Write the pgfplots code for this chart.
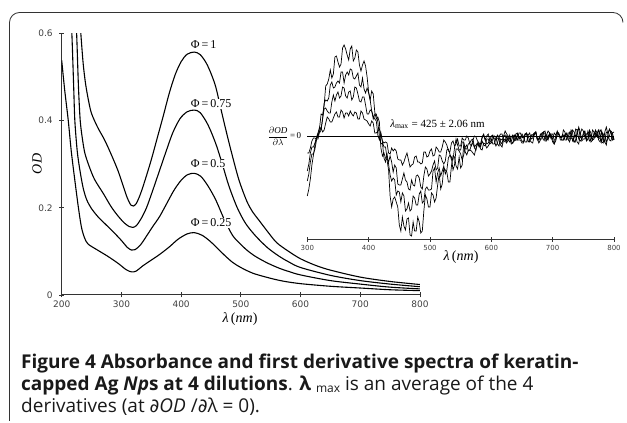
\documentclass[border=0pt]{standalone}
\usepackage{fontspec}
\setmainfont{Liberation Serif}
\newfontfamily\capfont{Open Sans}
\newfontfamily\tickfont{DejaVu Sans}
\usepackage{pgfplots}
\usepackage{pgfplotstable}
\pgfplotsset{compat=1.18}

\pgfplotstableread{
lam c4 c3 c2 c1
300 -60 -45 -35 -17
302.5 -53 -38 -28 -17
305 -43 -26 -17 -12
307.5 -29 -18 -11 -5
310 -19 -18 -11 -2
312.5 -9 -13 -7 -2
315 -2 -4 -1 -3
317.5 -1 3 3 -3
320 8 9 3 5
322.5 22 7 6 8
325 21 17 18 4
327.5 31 33 27 6
330 50 36 28 13
332.5 52 35 25 19
335 57 38 23 17
337.5 66 51 23 14
340 58 54 34 14
342.5 62 48 41 18
345 79 49 35 22
347.5 80 53 41 24
350 74 55 44 19
352.5 69 53 38 19
355 72 64 40 26
357.5 88 64 49 24
360 91 53 48 18
362.5 87 61 40 23
365 81 64 38 23
367.5 76 61 44 20
370 87 67 45 25
372.5 90 66 36 22
375 75 58 39 20
377.5 78 57 49 24
380 86 60 48 23
382.5 84 63 42 17
385 71 51 35 17
387.5 65 49 34 25
390 71 58 39 23
392.5 75 47 39 17
395 70 43 31 16
397.5 59 48 22 15
400 44 43 22 12
402.5 36 36 26 10
405 45 25 25 15
407.5 42 17 20 13
410 24 22 17 3
412.5 17 22 15 3
415 19 14 1 5
417.5 14 0 -4 7
420 -12 -8 3 2
422.5 -20 -7 -6 -5
425 -17 -22 -11 -7
427.5 -22 -26 -11 -6
430 -24 -18 -22 -7
432.5 -34 -28 -26 -17
435 -60 -39 -20 -18
437.5 -71 -45 -26 -12
440 -63 -42 -36 -15
442.5 -61 -44 -29 -13
445 -66 -59 -32 -15
447.5 -71 -55 -48 -23
450 -89 -56 -49 -24
452.5 -95 -66 -49 -24
455 -81 -57 -43 -29
457.5 -90 -60 -37 -26
460 -94 -75 -44 -21
462.5 -83 -73 -46 -17
465 -82 -67 -53 -24
467.5 -99 -75 -54 -31
470 -100 -73 -44 -29
472.5 -86 -60 -49 -28
475 -95 -62 -50 -21
477.5 -95 -69 -40 -20
480 -81 -69 -39 -26
482.5 -86 -58 -42 -26
485 -97 -55 -51 -28
487.5 -95 -67 -53 -27
490 -75 -65 -40 -16
492.5 -59 -53 -31 -16
495 -63 -51 -33 -21
497.5 -71 -54 -40 -20
500 -71 -54 -38 -15
502.5 -57 -53 -35 -13
505 -59 -35 -29 -20
507.5 -66 -32 -25 -19
510 -62 -46 -34 -11
512.5 -49 -37 -32 -13
515 -38 -32 -19 -16
517.5 -53 -40 -20 -16
520 -48 -35 -25 -11
522.5 -32 -30 -28 -4
525 -34 -38 -25 -6
527.5 -36 -34 -14 -9
530 -46 -22 -13 -15
532.5 -46 -19 -18 -16
535 -30 -21 -24 -7
537.5 -20 -34 -24 -5
540 -21 -29 -12 -10
542.5 -30 -13 -3 -8
545 -33 -13 -9 -3
547.5 -21 -15 -14 -10
550 -32 -18 -14 -10
552.5 -29 -24 -6 -2
555 -8 -19 -6 -4
557.5 -16 -11 -13 -4
560 -19 -9 -13 0
562.5 -14 -15 -8 -2
565 -14 -14 -7 -8
567.5 -15 -9 -4 -10
570 -17 -7 -3 -4
572.5 -19 -12 -11 0
575 -12 -14 -9 -1
577.5 -8 -7 -7 -5
580 -9 -8 -11 -7
582.5 -13 -11 -9 -8
585 -14 -5 -2 -1
587.5 -7 -9 1 2
590 -8 -10 -4 -4
592.5 -12 -3 -8 0
595 -10 -3 -7 2
597.5 -7 -8 -4 -4
600 -4 -7 0 -4
602.5 -8 -3 1 0
605 -8 0 -5 -3
607.5 -2 -1 -10 -3
610 -2 -8 -7 1
612.5 -4 -10 -1 -1
615 -9 -3 2 -6
617.5 -11 -4 2 -8
620 -4 -1 -4 0
622.5 -3 1 -6 5
625 -7 -5 0 2
627.5 -4 -2 -4 0
630 1 -2 -6 -3
632.5 -6 -8 -1 -5
635 -7 -7 1 -1
637.5 0 -4 -5 1
640 -1 2 -4 -4
642.5 -4 3 2 -4
645 -4 -3 -1 3
647.5 -4 -2 -2 3
650 -7 -5 2 -2
652.5 -7 -6 -1 -1
655 1 2 -6 2
657.5 3 2 -6 3
660 0 -6 1 -5
662.5 -4 -5 3 -6
665 -6 1 -3 1
667.5 -7 1 -2 1
670 1 2 3 3
672.5 4 4 3 4
675 -3 -3 -4 -3
677.5 -2 -4 -4 -7
680 -3 2 1 -4
682.5 -3 1 3 1
685 3 -4 4 4
687.5 3 -4 -5 5
690 -4 1 -5 -1
692.5 -3 5 1 -4
695 3 3 -1 2
697.5 0 1 2 -3
700 -6 -3 2 -3
702.5 -8 -8 -4 3
705 0 -5 -4 1
707.5 5 3 1 4
710 1 2 2 3
712.5 -1 -1 -1 -4
715 -4 0 -2 -4
717.5 -4 1 6 -4
720 2 -4 4 0
722.5 3 -4 -3 2
725 -3 3 -3 -2
727.5 -3 3 -6 4
730 6 -2 -1 4
732.5 3 -3 6 -5
735 -6 -6 4 -2
737.5 -4 -6 0 7
740 1 6 -6 6
742.5 9 7 -8 -3
745 4 -1 2 -5
747.5 -5 -3 7 -3
750 -3 3 5 1
752.5 -3 5 -1 4
755 2 -5 -3 -4
757.5 3 -3 5 -4
760 -5 4 1 6
762.5 -4 -1 -6 3
765 6 -4 -4 -4
767.5 4 3 2 -3
770 -1 1 6 3
772.5 2 -1 -1 5
775 -4 6 -2 -1
777.5 -6 2 6 -3
780 5 -6 4 -6
782.5 -3 2 1 -7
785 -6 2 -6 4
787.5 4 -6 -9 9
790 3 -3 1 2
792.5 6 0 7 -4
795 4 5 4 -5
797.5 -4 3 -1 3
800 -2 -4 -4 4
}\deriv

\begin{document}
\begin{tikzpicture}
\useasboundingbox (0pt,0pt) rectangle (627pt,423pt);
% frame
\draw[black!80, line width=0.8pt] (9.5pt,2pt) -- (9.5pt,400.5pt)
  arc[start angle=180, end angle=90, radius=10pt] -- (613pt,410.5pt)
  arc[start angle=90, end angle=0, radius=10pt];

% main absorbance axis
\begin{axis}[
  at={(61.7pt,128pt)}, anchor=south west,
  scale only axis, width=358.3pt, height=261.7pt,
  xmin=200, xmax=800, ymin=0, ymax=0.6,
  axis lines=left,
  axis line style={-, black!80, line width=1pt},
  xtick={200,300,...,800}, ytick={0,0.2,0.4,0.6},
  tick align=center, major tick length=5pt,
  tick style={black!80, line width=0.8pt},
  tick label style={font=\tickfont\fontsize{9}{9}\selectfont, text=black!75},
  yticklabel style={xshift=-3pt},
  /pgf/number format/assume math mode=true,
  clip=true,
]
\addplot[black, line width=1.1pt, smooth] coordinates {
(229,0.66) (232,0.60) (236,0.53) (240,0.484) (245,0.445) (250,0.416) (260,0.385) (272,0.355) (283,0.322) (294,0.286) (303,0.25) (310,0.222) (316,0.206) (320,0.204) (325,0.21) (332,0.232) (340,0.265) (350,0.31) (360,0.36) (370,0.41) (380,0.462) (390,0.505) (400,0.535) (410,0.552) (422,0.557) (432,0.551) (442,0.532) (450,0.508) (458,0.477) (466,0.43) (475,0.378) (486,0.318) (497,0.263) (510,0.215) (520,0.19) (530,0.172) (545,0.145) (560,0.12) (580,0.1) (600,0.083) (625,0.068) (650,0.057) (700,0.041) (750,0.031) (800,0.024)};
\addplot[black, line width=1.1pt, smooth] coordinates {
(222,0.68) (225,0.60) (228,0.48) (231,0.40) (235,0.355) (239,0.324) (246,0.295) (255,0.265) (270,0.232) (283,0.202) (295,0.18) (305,0.165) (313,0.157) (319,0.155) (325,0.159) (333,0.175) (342,0.2) (352,0.238) (364,0.286) (375,0.33) (386,0.372) (398,0.404) (410,0.42) (422,0.424) (432,0.418) (445,0.39) (458,0.347) (469,0.3) (480,0.25) (494,0.2) (508,0.164) (525,0.135) (545,0.108) (565,0.088) (580,0.076) (600,0.063) (650,0.045) (700,0.033) (750,0.025) (800,0.019)};
\addplot[black, line width=1.1pt, smooth] coordinates {
(214,0.68) (217,0.60) (220,0.48) (222,0.40) (226,0.33) (230.5,0.286) (236,0.245) (242,0.218) (250,0.198) (261,0.179) (275,0.16) (289,0.141) (300,0.125) (310,0.109) (317,0.103) (323,0.104) (332,0.115) (342,0.135) (352,0.156) (364,0.18) (376,0.21) (388,0.24) (400,0.263) (411,0.276) (422,0.279) (433,0.272) (445,0.25) (458,0.218) (472,0.174) (486,0.137) (497,0.12) (510,0.103) (525,0.088) (545,0.073) (565,0.061) (580,0.054) (600,0.046) (650,0.033) (700,0.025) (750,0.018) (800,0.014)};
\addplot[black, line width=1.1pt, smooth] coordinates {
(200,0.538) (205,0.47) (211,0.40) (216,0.33) (222,0.263) (228,0.2) (233,0.156) (238,0.132) (244,0.117) (260,0.103) (278,0.088) (295,0.072) (308,0.058) (317,0.053) (325,0.055) (335,0.066) (350,0.08) (364,0.093) (380,0.11) (395,0.128) (410,0.14) (422,0.143) (435,0.137) (447,0.125) (458,0.111) (472,0.092) (486,0.075) (500,0.063) (520,0.05) (545,0.04) (570,0.032) (600,0.026) (650,0.02) (700,0.016) (750,0.012) (800,0.01)};
\tikzset{philab/.style={anchor=west, fill=white, inner sep=0.6pt, font=\fontsize{12}{12}\selectfont}}
\node[philab] at (axis cs:415,0.575) {Φ\,=\,1};
\node[philab] at (axis cs:415,0.438) {Φ\,=\,0.75};
\node[philab] at (axis cs:415,0.301) {Φ\,=\,0.5};
\node[philab] at (axis cs:415,0.165) {Φ\,=\,0.25};
\end{axis}

% derivative inset axis
\begin{axis}[
  at={(307.3pt,183.7pt)}, anchor=south west,
  scale only axis, width=306.7pt, height=203.3pt,
  xmin=300, xmax=800, ymin=-103.3, ymax=100,
  axis x line=bottom, axis y line=none,
  axis line style={-, black!80, line width=1pt},
  xtick={300,400,...,800}, ytick=\empty,
  tick align=center, major tick length=5pt,
  tick style={black!80, line width=0.8pt},
  tick label style={font=\tickfont\fontsize{7}{8}\selectfont, text=black!75},
  /pgf/number format/assume math mode=true,
  clip=false,
]
\addplot[black, line width=0.7pt] coordinates {(300,0) (800,0)};
\addplot[black, line width=0.7pt] table[x=lam, y=c1] {\deriv};
\addplot[black, line width=0.7pt] table[x=lam, y=c2] {\deriv};
\addplot[black, line width=0.7pt] table[x=lam, y=c3] {\deriv};
\addplot[black, line width=0.7pt] table[x=lam, y=c4] {\deriv};
\node[anchor=east, inner sep=0pt, font=\fontsize{9}{9}\selectfont] at ([xshift=-6pt]axis cs:300,0)
  {$\displaystyle\frac{\partial \mathit{OD}}{\partial\lambda}$\,=\,0};
\node[anchor=west, inner sep=0pt, font=\fontsize{11}{11}\selectfont] at (axis cs:435,12)
  {\textit{λ}\textsubscript{max} = 425 ± 2.06 nm};
\end{axis}

% axis labels
\node[rotate=90, font=\fontsize{14}{14}\selectfont] at (37pt,259pt) {\textit{OD}};
\node[font=\fontsize{14}{14}\selectfont] at (240pt,104pt) {\textit{λ}\,(\textit{nm})};
\node[font=\fontsize{14}{14}\selectfont] at (461pt,166pt) {\textit{λ}\,(\textit{nm})};

% caption
\begin{scope}[every node/.style={anchor=base west, inner sep=0pt, text=black!90}]
\node[font=\capfont\fontsize{19}{19}\selectfont\bfseries] at (21pt,54pt)
  {Figure 4 Absorbance and first derivative spectra of keratin-};
\node[font=\capfont\fontsize{19}{19}\selectfont] at (21pt,32pt)
  {\textbf{capped Ag \textit{Np}s at 4 dilutions}. \textbf{λ} \raisebox{-2pt}{\fontsize{12}{12}\selectfont max} is an average of the 4};
\node[font=\capfont\fontsize{19}{19}\selectfont] at (21pt,10pt)
  {derivatives (at {\tickfont ∂}\textit{OD} /{\tickfont ∂}λ = 0).};
\end{scope}
\end{tikzpicture}
\end{document}
